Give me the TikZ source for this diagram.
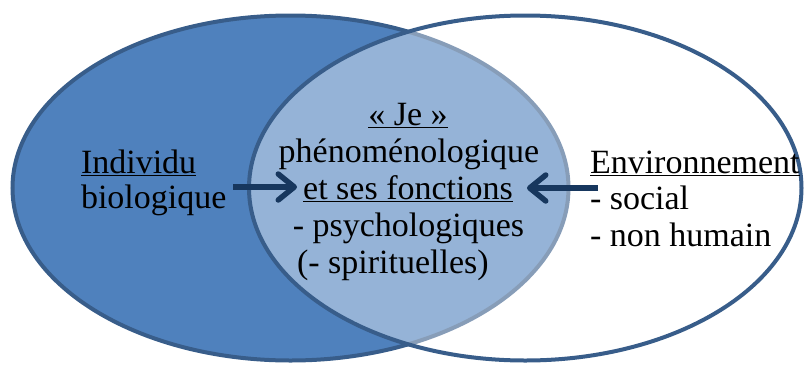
\documentclass[tikz,border=0pt]{standalone}
\usepackage{fontspec}
\setmainfont{Liberation Serif}
\usetikzlibrary{arrows.meta}
\definecolor{leftfill}{HTML}{4F81BD}
\definecolor{ringline}{HTML}{385D8A}
\definecolor{arrowcol}{HTML}{17375E}
\tikzset{
  txt/.style={inner sep=0pt, outer sep=0pt, font=\fontsize{34pt}{37pt}\selectfont, text=black},
  ring/.style={line width=4pt, draw=ringline},
  flow/.style={line width=5.5pt, draw=arrowcol, -{Straight Barb[length=16pt,width=26pt,round]}}
}
\begin{document}
\begin{tikzpicture}[x=1pt,y=-1pt]
\useasboundingbox (0,0) rectangle (807,365);
% left ellipse
\draw[ring, fill=leftfill] (290.5,188) ellipse [x radius=278pt, y radius=172.5pt];
% right ellipse (semi-transparent white fill)
\draw[ring, fill=white, fill opacity=0.4, draw opacity=1] (525.25,188) ellipse [x radius=276.25pt, y radius=172.5pt];
% left text
\node[txt, anchor=base west] (ind) at (81,173) {\underline{Individu}};
\node[txt, anchor=base west] (bio) at (81,208) {biologique};
% centre text
\node[txt, anchor=base] (je) at (408,125) {\underline{« Je »}};
\node[txt, anchor=base] (phen) at (409,162) {phénoménologique};
\node[txt, anchor=base] (fonc) at (408,199.5) {\underline{et ses fonctions}};
\node[txt, anchor=base] (psy) at (408.5,236.5) {- psychologiques};
\node[txt, anchor=base west] (spi) at (297,273) {(- spirituelles)};
% right text
\node[txt, anchor=base west] (env) at (590,173) {\underline{Environnement}};
\node[txt, anchor=base west] (soc) at (590,209) {- social};
\node[txt, anchor=base west] (nh) at (590,246.5) {- non humain};
% arrows
\coordinate (la1) at (233,187);
\coordinate (la2) at (297,187);
\coordinate (ra1) at (598,188);
\coordinate (ra2) at (527,188);
\draw[flow] (la1) -- (la2);
\draw[flow] (ra1) -- (ra2);
\end{tikzpicture}
\end{document}
